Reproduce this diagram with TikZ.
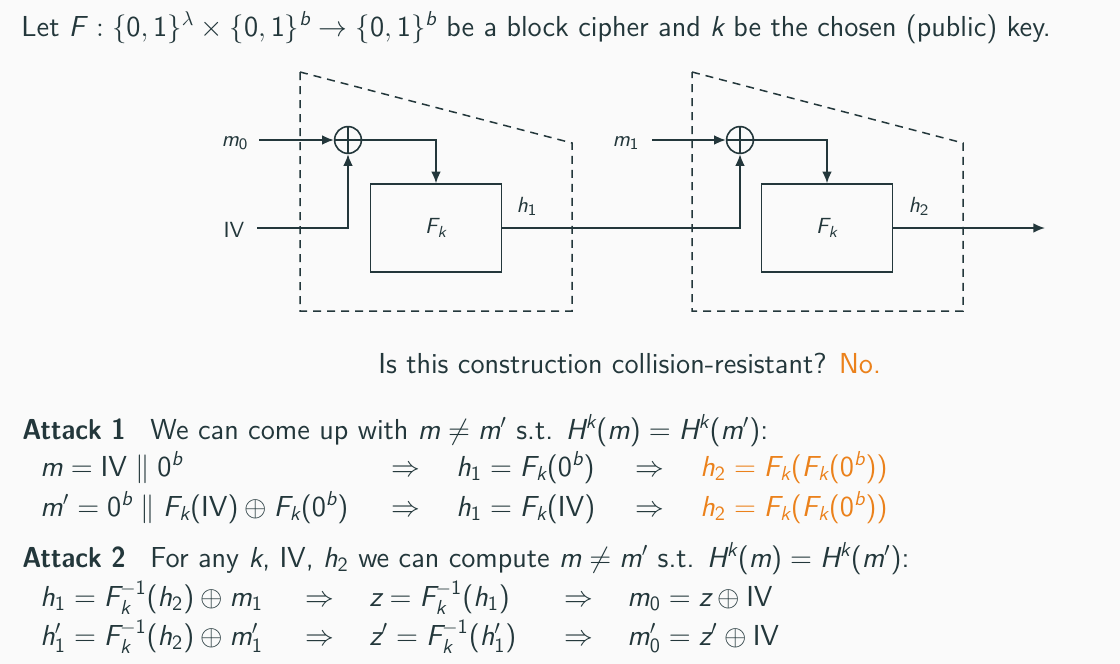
\documentclass[tikz,border=0pt]{standalone}
\usepackage{amsmath}
\usepackage{graphicx}
\usetikzlibrary{arrows.meta}
\renewcommand\familydefault{\sfdefault}
\DeclareSymbolFont{sfletters}{TU}{lmss}{m}{sl}
\DeclareSymbolFont{sfup}{TU}{lmss}{m}{n}
\DeclareSymbolFontAlphabet{\mathrm}{sfup}
\makeatletter
\count@=`a
\loop
  \Umathcode\count@=7 \symsfletters\count@
  \ifnum\count@<`z\relax \advance\count@\@ne
\repeat
\count@=`A
\loop
  \Umathcode\count@=7 \symsfletters\count@
  \ifnum\count@<`Z\relax \advance\count@\@ne
\repeat
\count@=`0
\loop
  \Umathcode\count@=7 \symsfup\count@
  \ifnum\count@<`9\relax \advance\count@\@ne
\repeat
\Umathcode`(=4 \symsfup`(
\Umathcode`)=5 \symsfup`)
\makeatother
\definecolor{mdark}{HTML}{23373B}
\definecolor{morange}{HTML}{EB811B}
\definecolor{mbg}{HTML}{FAFAFA}
\newcommand\attackhead[1]{\scalebox{0.9}[1]{\textbf{#1}}}
\begin{document}
\begin{tikzpicture}[x=0.5pt,y=-0.5pt,
  every node/.style={text=mdark,font=\fontsize{10.95}{13}\selectfont},
  txt/.style={anchor=base west,inner sep=0pt,font=\fontsize{14.45}{17}\selectfont},
  lbl/.style={anchor=base,inner sep=0pt},
  wire/.style={draw=mdark,line width=0.9pt},
  arr/.style={wire,-{Latex[length=5.8pt,width=4.8pt]}},
  frame/.style={draw=mdark,line width=0.75pt,dash pattern=on 4pt off 3pt},
  fbox/.style={draw=mdark,line width=0.7pt,minimum width=65.5pt,minimum height=44pt,inner sep=0pt},
  xorop/.style={circle,draw=mdark,line width=0.8pt,minimum size=13.4pt,inner sep=0pt,
    path picture={\draw[mdark,line width=0.8pt] (path picture bounding box.north) -- (path picture bounding box.south)
      (path picture bounding box.west) -- (path picture bounding box.east);}}]
\useasboundingbox (0,0) rectangle (1120,664);
\fill[mbg] (0,0) rectangle (1120,664);

% title line
\node[txt] (title) at (21,36) {Let $F\mkern2mu:\{0,1\}^\lambda\times\{0,1\}^b\to\{0,1\}^b$ be a block cipher and $k$ be the chosen (public) key.};

% dashed frames
\draw[frame] (300,72) -- (572,143) -- (572,311) -- (300,311) -- cycle;
\draw[frame] (692,72) -- (963,143) -- (963,311) -- (692,311) -- cycle;

% block 1
\node[xorop] (xor1) at (348,140) {};
\node[fbox] (box1) at (436,228) {$F_k$};
\node[lbl] (m0) at (235,146) {$m_0$};
\node[lbl] (iv) at (234,237) {IV};
\node[lbl] (h1) at (527,212) {$h_1$};
\coordinate (m0s) at (259,140);
\coordinate (ivs) at (257,228);

% block 2
\node[xorop] (xor2) at (740,140) {};
\node[fbox] (box2) at (827,228) {$F_k$};
\node[lbl] (m1) at (626,146) {$m_1$};
\node[lbl] (h2) at (919,212) {$h_2$};
\coordinate (m1s) at (652,140);
\coordinate (outc) at (1045,228);

% connectors
\draw[arr] (m0s) -- (xor1.west);
\draw[arr] (ivs) -| (xor1.south);
\draw[arr] (xor1.east) -| (box1.north);
\draw[arr] (box1.east) -| (xor2.south);
\draw[arr] (m1s) -- (xor2.west);
\draw[arr] (xor2.east) -| (box2.north);
\draw[arr] (box2.east) -- (outc);

% question
\node[txt] (q) at (378,373) {Is this construction collision-resistant? \textcolor{morange}{No.}};

% attack 1
\node[txt] (a1) at (22,439) {\attackhead{Attack 1}};
\node[txt] (a1t) at (150,439) {We can come up with $m\neq m'$ s.t. $H^k(m)=H^k(m')$:};
\node[txt] (r11) at (40,476) {$m=\mathrm{IV}\parallel 0^b$};
\node[txt] (r12) at (391,476) {$\Rightarrow$};
\node[txt] (r13) at (456,476) {$h_1=F_k(0^b)$};
\node[txt] (r14) at (635,476) {$\Rightarrow$};
\node[txt,text=morange] (r15) at (700,476) {$h_2=F_k(F_k(0^b))$};
\node[txt] (r21) at (40,516) {$m'=0^b\parallel F_k(\mathrm{IV})\oplus F_k(0^b)$};
\node[txt] (r22) at (391,516) {$\Rightarrow$};
\node[txt] (r23) at (456,516) {$h_1=F_k(\mathrm{IV})$};
\node[txt] (r24) at (635,516) {$\Rightarrow$};
\node[txt,text=morange] (r25) at (700,516) {$h_2=F_k(F_k(0^b))$};

% attack 2
\node[txt] (a2) at (22,567) {\attackhead{Attack 2}};
\node[txt] (a2t) at (150,567) {For any $k$, IV, $h_2$ we can compute $m\neq m'$ s.t. $H^k(m)=H^k(m')$:};
\node[txt] (s11) at (40,606) {$h_1=F_k^{-1}(h_2)\oplus m_1$};
\node[txt] (s12) at (305,606) {$\Rightarrow$};
\node[txt] (s13) at (369,606) {$z=F_k^{-1}(h_1)$};
\node[txt] (s14) at (564,606) {$\Rightarrow$};
\node[txt] (s15) at (627,606) {$m_0=z\oplus\mathrm{IV}$};
\node[txt] (s21) at (40,645) {$h_1'=F_k^{-1}(h_2)\oplus m_1'$};
\node[txt] (s22) at (305,645) {$\Rightarrow$};
\node[txt] (s23) at (369,645) {$z'=F_k^{-1}(h_1')$};
\node[txt] (s24) at (564,645) {$\Rightarrow$};
\node[txt] (s25) at (627,645) {$m_0'=z'\oplus\mathrm{IV}$};
\end{tikzpicture}
\end{document}
